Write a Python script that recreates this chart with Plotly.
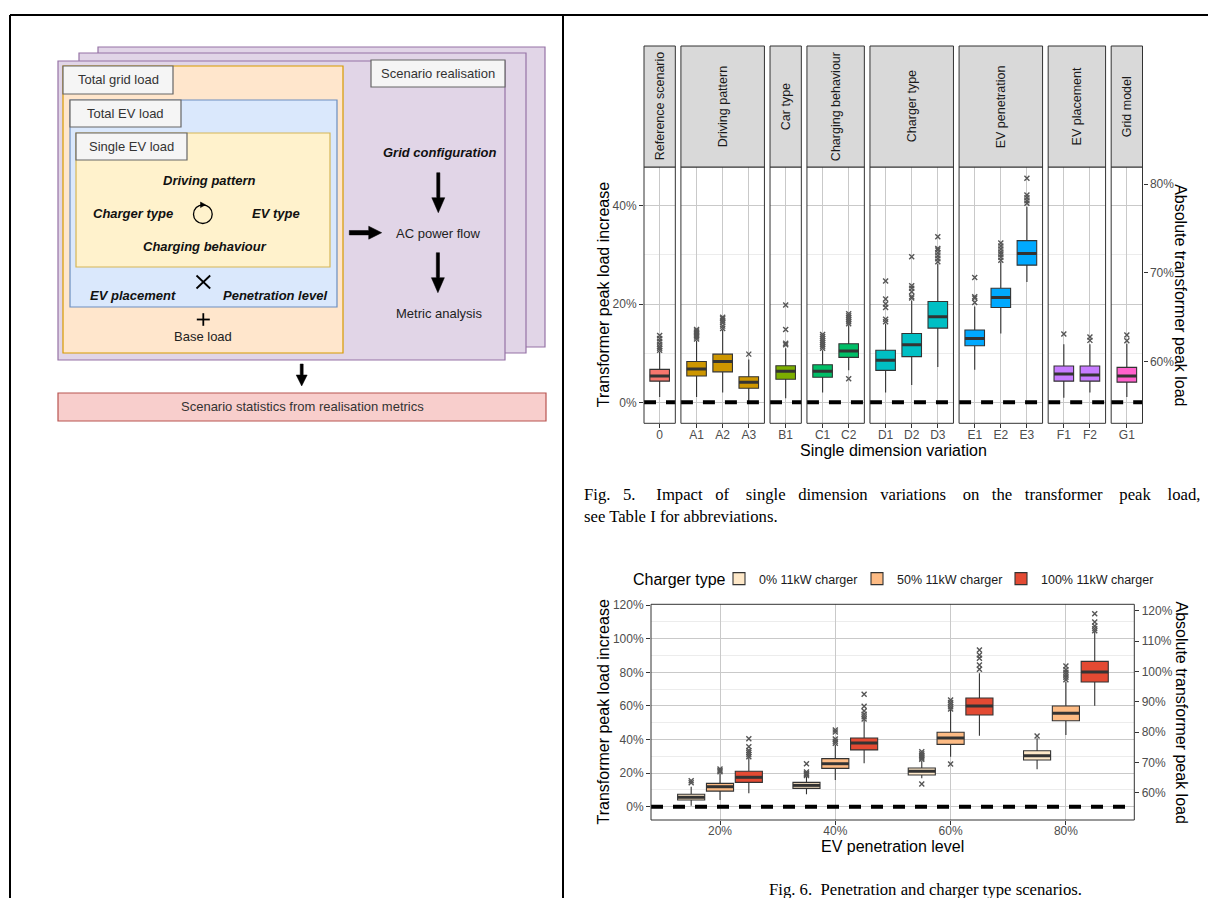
import plotly.graph_objects as go

W, H = 1208, 898


def fx(x):
    return x / W


def fy(y):
    return 1 - y / H


# ---------------------------------------------------------------- Fig. 5 data
f5_groups = ["Reference scenario", "Driving pattern", "Car type", "Charging behaviour",
             "Charger type", "EV penetration", "EV placement", "Grid model"]
f5_cats = [["0"], ["A1", "A2", "A3"], ["B1"], ["C1", "C2"], ["D1", "D2", "D3"],
           ["E1", "E2", "E3"], ["F1", "F2"], ["G1"]]
f5_colors = ["#F8766D", "#CD9600", "#7CAE00", "#00BE67", "#00BFC4", "#00A9FF", "#C77CFF", "#FF61CC"]

f5_labels = ["0", "A1", "A2", "A3", "B1", "C1", "C2", "D1", "D2", "D3", "E1", "E2", "E3", "F1", "F2", "G1"]
f5_lo = [1.1, 1.1, 2.0, 0.0, 0.8, 2.0, 6.5, 2.0, 3.5, 7.2, 6.6, 14.0, 24.5, 0.95, 2.0, 1.1]
f5_q1 = [4.3, 5.35, 6.2, 2.85, 4.7, 5.1, 9.15, 6.5, 9.3, 15.1, 11.5, 19.3, 27.9, 4.3, 4.3, 4.1]
f5_med = [5.35, 6.8, 8.3, 4.1, 6.3, 6.3, 10.45, 8.55, 11.7, 17.4, 13.0, 21.3, 30.3, 5.75, 5.55, 5.35]
f5_q3 = [6.7, 8.3, 9.8, 5.2, 7.45, 7.65, 11.9, 10.6, 14.0, 20.5, 14.7, 23.2, 32.9, 7.4, 7.4, 7.1]
f5_hi = [10.3, 12.5, 14.7, 8.7, 11.0, 10.6, 15.7, 16.0, 20.7, 28.2, 19.5, 28.6, 39.8, 11.8, 11.8, 11.9]
f5_out = [
    [10.6, 11.0, 11.3, 11.8, 12.4, 13.0, 13.6],
    [12.9, 13.3, 13.6, 13.9, 14.2, 14.5, 14.8],
    [15.0, 15.5, 16.2, 16.6, 17.0, 17.3],
    [9.8],
    [11.7, 12.0, 14.8, 19.8],
    [11.0, 11.4, 11.8, 12.2, 12.6, 13.0, 13.4, 13.8],
    [4.8, 16.0, 16.4, 16.8, 17.2, 17.6, 18.0],
    [16.4, 16.9, 19.3, 20.0, 21.0, 24.7],
    [21.2, 21.5, 22.5, 23.2, 23.7, 29.6],
    [28.6, 29.2, 29.8, 30.4, 31.0, 31.3, 33.7],
    [20.3, 21.2, 21.5, 25.4],
    [28.9, 29.5, 30.1, 30.6, 31.2, 31.8, 32.4],
    [40.5, 41.0, 41.6, 42.2, 45.6],
    [13.9],
    [12.6, 13.3],
    [12.5, 13.7],
]
f5_yticks = [0, 20, 40]
f5_yminor = [10, 30]
f5_abs_ticks = [60, 70, 80]

# ---------------------------------------------------------------- Fig. 6 data
f6_pen = [20, 40, 60, 80]
f6_pen_labels = ["20%", "40%", "60%", "80%"]
f6_chargers = ["0% 11kW charger", "50% 11kW charger", "100% 11kW charger"]
f6_colors = ["#FEE8C8", "#FDBB84", "#E34A33"]
f6_lo = [[0.6, 7.4, 16.9, 22.3], [4.0, 15.9, 29.8, 42.7], [8.0, 25.8, 42.3, 60.1]]
f6_q1 = [[4.0, 10.9, 18.9, 27.8], [9.3, 22.8, 37.1, 51.2], [14.5, 33.8, 54.6, 74.2]]
f6_med = [[5.6, 12.7, 21.1, 30.4], [11.9, 25.6, 40.9, 55.6], [17.5, 37.9, 59.9, 80.2]]
f6_q3 = [[7.4, 14.5, 23.0, 33.3], [13.9, 28.6, 44.3, 59.9], [21.1, 40.9, 64.7, 86.5]]
f6_hi = [[11.9, 18.0, 27.5, 40.7], [19.9, 36.7, 57.6, 74.4], [29.0, 51.6, 79.4, 104.2]]
f6_out = [
    [[14.3, 15.5], [18.5, 19.2, 19.8, 20.6, 25.5], [13.5, 28.2, 29.0, 29.8, 30.6, 31.5, 32.7], [42.1]],
    [[20.8, 21.6, 22.4], [37.7, 39.0, 40.3, 44.5, 45.6], [25.4, 58.2, 59.5, 60.8, 62.0, 63.5],
     [75.5, 77.0, 78.5, 80.0, 81.5, 83.7]],
    [[29.8, 31.0, 32.2, 33.5, 35.7, 40.4], [52.2, 53.5, 55.0, 57.0, 59.8, 66.9],
     [81.8, 84.3, 88.3, 90.3, 93.3], [104.8, 106.0, 107.5, 110.0, 114.9]],
]
f6_yticks = [0, 20, 40, 60, 80, 100, 120]
f6_yminor = [10, 30, 50, 70, 90, 110]
f6_abs_ticks = [60, 70, 80, 90, 100, 110, 120]
f6_legend_title = "Charger type"

# absolute transformer peak load (%) of the base load, used for the secondary axes
base_abs = 55.4

# ---------------------------------------------------------------- styling
FONT = "Liberation Sans, Arial, sans-serif"
SERIF = "Liberation Serif, Times New Roman, serif"
GRID = "#c9c9c9"
MINOR = "#ececec"
DARK = "#333333"
TICKC = "#4d4d4d"
f6_legend_w = [93, 99, 115]

fig = go.Figure()
shapes = []
annotations = []
layout_axes = {}


def pct(v):
    return f"{v}%"


def add_box(x, lo, q1, med, q3, hi, outs, color, width, xa, ya, name, showlegend, group, lw=None):
    fig.add_trace(go.Box(
        x=[x], q1=[q1], median=[med], q3=[q3], lowerfence=[lo], upperfence=[hi],
        boxpoints=False, fillcolor=color, line=dict(color=DARK, width=1.1),
        width=width, whiskerwidth=0, xaxis=xa, yaxis=ya, name=name,
        showlegend=showlegend, legendgroup=group, legendwidth=lw))
    fig.add_trace(go.Scatter(
        x=[x - width / 2, x + width / 2], y=[med, med], mode="lines",
        line=dict(color=DARK, width=3), xaxis=xa, yaxis=ya, showlegend=False,
        hoverinfo="skip", legendgroup=group))
    if outs:
        fig.add_trace(go.Scatter(
            x=[x] * len(outs), y=outs, mode="markers",
            marker=dict(symbol="x-thin", size=5, line=dict(width=1.4, color="#555555")),
            xaxis=xa, yaxis=ya, showlegend=False, hoverinfo="y", legendgroup=group))


def note(text, x, y, size, color="black", angle=0, xref="paper", family=None, xanchor="center"):
    f = dict(size=size, color=color)
    if family:
        f["family"] = family
    annotations.append(dict(text=text, xref=xref, yref="paper", x=x, y=y, textangle=angle,
                            showarrow=False, xanchor=xanchor, yanchor="middle", font=f))


XTICK = dict(ticks="outside", ticklen=4, tickcolor=DARK, tickfont=dict(size=12, color=TICKC),
             ticklabelstandoff=-4, showgrid=True, gridcolor=GRID, gridwidth=1,
             zeroline=False, showline=False)
YTICK = dict(ticks="outside", ticklen=4, tickcolor=DARK, tickfont=dict(size=12, color=TICKC),
             zeroline=False, showline=False)

# ---------------------------------------------------------------- Fig. 5
left5, right5, gap5 = 644.0, 1142.5, 5.6
top5, bot5, strip_top5 = 167.0, 423.3, 46.0
zero5_px, step5_px = 402.3, 98.3
f5_range = [-(bot5 - zero5_px) / step5_px * 20, (zero5_px - top5) / step5_px * 20]

sizes = [len(c) for c in f5_cats]
units = [n + 0.2 for n in sizes]
unit_px = (right5 - left5 - gap5 * (len(sizes) - 1)) / sum(units)

xpos = left5
for k, (grp, cats, col) in enumerate(zip(f5_groups, f5_cats, f5_colors), start=1):
    wpx = units[k - 1] * unit_px
    xa = "x" if k == 1 else f"x{k}"
    axname = "xaxis" if k == 1 else f"xaxis{k}"
    layout_axes[axname] = dict(
        domain=[fx(xpos), fx(xpos + wpx)], range=[0.4, len(cats) + 0.6], anchor="y",
        tickmode="array", tickvals=list(range(1, len(cats) + 1)), ticktext=cats, **XTICK)
    for j, cat in enumerate(cats):
        i = f5_labels.index(cat)
        add_box(j + 1, f5_lo[i], f5_q1[i], f5_med[i], f5_q3[i], f5_hi[i], f5_out[i],
                col, 0.75, xa, "y", cat, False, cat)
    dref = f"{xa} domain"
    shapes.append(dict(type="line", xref=dref, x0=0, x1=1, yref="y", y0=0, y1=0,
                       line=dict(color="black", width=4, dash="12px,10px"), layer="above"))
    shapes.append(dict(type="rect", xref=dref, x0=0, x1=1, yref="y domain", y0=0, y1=1,
                       line=dict(color=DARK, width=1), layer="above"))
    shapes.append(dict(type="rect", xref=dref, x0=0, x1=1, yref="paper",
                       y0=fy(top5), y1=fy(strip_top5), fillcolor="#d9d9d9",
                       line=dict(color=DARK, width=1), layer="above"))
    note(grp, 0.5, fy((top5 + strip_top5) / 2), 12.5, "#1a1a1a", -90, xref=dref)
    xpos += wpx + gap5

# invisible anchor so the secondary (absolute) axis is drawn
last = f5_labels.index(f5_cats[-1][-1])
fig.add_trace(go.Scatter(x=[1], y=[base_abs * (1 + f5_med[last] / 100)], xaxis="x8", yaxis="y2",
                         mode="markers", marker=dict(opacity=0), showlegend=False, hoverinfo="skip"))

layout_axes["yaxis"] = dict(
    domain=[fy(bot5), fy(top5)], range=f5_range, anchor="x",
    tickmode="array", tickvals=f5_yticks, ticktext=[pct(v) for v in f5_yticks],
    showgrid=True, gridcolor=GRID, gridwidth=1,
    minor=dict(tickvals=f5_yminor, showgrid=True, gridcolor=MINOR, ticks=""), **YTICK)
layout_axes["yaxis2"] = dict(
    overlaying="y", anchor="x8", side="right",
    range=[base_abs * (1 + r / 100) for r in f5_range],
    tickmode="array", tickvals=f5_abs_ticks, ticktext=[pct(v) for v in f5_abs_ticks],
    showgrid=False, **YTICK)

note("Transformer peak load increase", fx(603), fy((top5 + bot5) / 2), 16, angle=-90)
note("Absolute transformer peak load", fx(1181), fy((top5 + bot5) / 2), 16, angle=90)
note("Single dimension variation", fx((left5 + right5) / 2), fy(451), 16)

# ---------------------------------------------------------------- Fig. 6
left6, right6, top6, bot6 = 651.0, 1134.3, 604.3, 820.0
zero6_px, step6_px = 806.7, 33.6
f6_range = [-(bot6 - zero6_px) / step6_px * 20, (zero6_px - top6) / step6_px * 20]
x20_px, xstep_px = 720.0, 115.3
f6_xrange = [20 + (left6 - x20_px) / xstep_px * 20, 20 + (right6 - x20_px) / xstep_px * 20]
dodge = [-5.0, 0.0, 5.0]

for g, (cname, col) in enumerate(zip(f6_chargers, f6_colors)):
    for p, pen in enumerate(f6_pen):
        add_box(pen + dodge[g], f6_lo[g][p], f6_q1[g][p], f6_med[g][p], f6_q3[g][p],
                f6_hi[g][p], f6_out[g][p], col, 4.7, "x9", "y3", cname, p == 0, cname,
                lw=f6_legend_w[g])

fig.add_trace(go.Scatter(x=[f6_pen[-1]], y=[base_abs * (1 + f6_med[-1][-1] / 100)], xaxis="x9",
                         yaxis="y4", mode="markers", marker=dict(opacity=0), showlegend=False,
                         hoverinfo="skip"))

layout_axes["xaxis9"] = dict(
    domain=[fx(left6), fx(right6)], range=f6_xrange, anchor="y3",
    tickmode="array", tickvals=f6_pen, ticktext=f6_pen_labels, **XTICK)
layout_axes["yaxis3"] = dict(
    domain=[fy(bot6), fy(top6)], range=f6_range, anchor="x9",
    tickmode="array", tickvals=f6_yticks, ticktext=[pct(v) for v in f6_yticks],
    showgrid=True, gridcolor=GRID, gridwidth=1,
    minor=dict(tickvals=f6_yminor, showgrid=True, gridcolor=MINOR, ticks=""), **YTICK)
layout_axes["yaxis4"] = dict(
    overlaying="y3", anchor="x9", side="right",
    range=[base_abs * (1 + r / 100) for r in f6_range],
    tickmode="array", tickvals=f6_abs_ticks, ticktext=[pct(v) for v in f6_abs_ticks],
    showgrid=False, **YTICK)

shapes.append(dict(type="line", xref="x9 domain", x0=0, x1=1, yref="y3", y0=0, y1=0,
                   line=dict(color="black", width=4, dash="12px,10px"), layer="above"))
shapes.append(dict(type="rect", xref="x9 domain", x0=0, x1=1, yref="y3 domain", y0=0, y1=1,
                   line=dict(color=DARK, width=1), layer="above"))

note("Transformer peak load increase", fx(603), fy(712.5), 16, angle=-90)
note("Absolute transformer peak load", fx(1181), fy(712.5), 16, angle=90)
note("EV penetration level", fx((left6 + right6) / 2), fy(846), 16)
note(f6_legend_title, fx(631), fy(579), 16, xanchor="left")

# ---------------------------------------------------------------- captions
NB = "\u00a0"
cap1_words = ["Fig.", "5.", "Impact", "of", "single", "dimension", "variations", "on",
              "the", "transformer", "peak", "load,"]
cap1_gaps = [3, 5, 3, 4, 3, 3, 4, 3, 3, 4, 4]
cap1 = cap1_words[0] + "".join(NB * n + w for n, w in zip(cap1_gaps, cap1_words[1:]))
note(cap1, fx(582), fy(494), 16.7, family=SERIF, xanchor="left")
note("see Table I for abbreviations.", fx(582), fy(516), 16.7, family=SERIF, xanchor="left")
note("Fig. 6." + NB * 2 + "Penetration and charger type scenarios.", fx(925), fy(889), 16.7,
     family=SERIF)

# ---------------------------------------------------------------- page frame
for (a, b, c, d) in [(10, 15, 1208, 15), (10, 15, 10, 898), (563, 15, 563, 898)]:
    shapes.append(dict(type="line", xref="paper", yref="paper", x0=fx(a), y0=fy(b),
                       x1=fx(c), y1=fy(d), line=dict(color="black", width=2)))

# ---------------------------------------------------------------- Fig. 4 diagram


def rect(x0, y0, x1, y1, fill, line, w=1.2):
    shapes.append(dict(type="rect", xref="paper", yref="paper", x0=fx(x0), x1=fx(x1),
                       y0=fy(y1), y1=fy(y0), fillcolor=fill, line=dict(color=line, width=w),
                       layer="below"))


def label(x, y, text, size=13, color="#333333"):
    note(text, fx(x), fy(y), size, color)


def poly(points):
    path = "M" + " L".join(f"{fx(a):.5f},{fy(b):.5f}" for a, b in points) + " Z"
    shapes.append(dict(type="path", xref="paper", yref="paper", path=path,
                       fillcolor="black", line=dict(color="black", width=0.5)))


def arrow_down(x, y0, y1, sw=1.6, hw=6.5, hl=15):
    yh = y1 - hl
    poly([(x - sw, y0), (x + sw, y0), (x + sw, yh), (x + hw, yh), (x, y1), (x - hw, yh), (x - sw, yh)])


def arrow_right(x0, x1, y, sw=2.2, hw=6.5, hl=13):
    xh = x1 - hl
    poly([(x0, y - sw), (xh, y - sw), (xh, y - hw), (x1, y), (xh, y + hw), (xh, y + sw), (x0, y + sw)])


def seg(a, b, c, d, w=1.8):
    shapes.append(dict(type="line", xref="paper", yref="paper", x0=fx(a), y0=fy(b),
                       x1=fx(c), y1=fy(d), line=dict(color="black", width=w)))


rect(98, 47, 545, 347, "#E1D5E7", "#9673A6")
rect(79, 53, 526, 353, "#E1D5E7", "#9673A6")
rect(58, 61, 505, 360, "#E1D5E7", "#9673A6")
rect(63, 66, 343, 353, "#FFE6CC", "#D79B00")
rect(63, 66, 173, 94, "#F5F5F5", "#666666")
rect(70, 100, 337, 307, "#DAE8FC", "#6C8EBF")
rect(70, 100, 181, 127, "#F5F5F5", "#666666")
rect(76, 133, 330, 267, "#FFF2CC", "#D6B656")
rect(76, 133, 187, 160, "#F5F5F5", "#666666")
rect(371, 60, 505, 87, "#F5F5F5", "#666666")
rect(58, 393, 546, 421, "#F8CECC", "#B85450")

label(118, 80, "Total grid load")
label(125.5, 113.5, "Total EV load")
label(131.5, 146.5, "Single EV load")
label(438, 73.5, "Scenario realisation")
label(302, 407, "Scenario statistics from realisation metrics")
label(209.7, 180.5, "<b><i>Driving pattern</i></b>", color="#111111")
label(133.3, 213.5, "<b><i>Charger type</i></b>", color="#111111")
label(275.5, 213.5, "<b><i>EV type</i></b>", color="#111111")
label(204.5, 246, "<b><i>Charging behaviour</i></b>", color="#111111")
label(132.7, 296, "<b><i>EV placement</i></b>", color="#111111")
label(275, 296, "<b><i>Penetration level</i></b>", color="#111111")
label(203.3, 336, "Base load", color="#222222")
label(439, 153, "<b><i>Grid configuration</i></b>", color="#111111")
label(438, 233, "AC power flow", color="#222222")
label(438.7, 313.5, "Metric analysis", color="#222222")

# cycle symbol
shapes.append(dict(type="circle", xref="paper", yref="paper", x0=fx(193.5), x1=fx(212.2),
                   y0=fy(223.5), y1=fy(204.8), line=dict(color="black", width=1.3)))
poly([(200.5, 202.0), (200.5, 207.6), (205.5, 204.8)])
# multiplication and plus signs
seg(196.5, 275.5, 210.2, 288.5)
seg(196.5, 288.5, 210.2, 275.5)
seg(196.8, 319.5, 209.8, 319.5)
seg(203.3, 313.2, 203.3, 325.8)

arrow_down(438.3, 172.7, 212.7)
arrow_right(349.3, 381.7, 232.7)
arrow_down(437.9, 252.7, 292.7)
arrow_down(301.7, 364, 386, sw=1.5, hw=5.5, hl=11)

# ---------------------------------------------------------------- layout
fig.update_layout(
    template="none",
    width=W, height=H, margin=dict(l=0, r=0, t=0, b=0),
    paper_bgcolor="white", plot_bgcolor="white",
    font=dict(family=FONT, size=12, color="black"),
    boxmode="overlay",
    shapes=shapes, annotations=annotations,
    legend=dict(orientation="h", x=fx(719), y=fy(579), xanchor="left", yanchor="middle",
                font=dict(size=12.5, color="#1a1a1a"), bgcolor="rgba(0,0,0,0)",
                itemwidth=30, tracegroupgap=0),
    **layout_axes,
)

fig.write_html("out.html", config={"displayModeBar": False},
               post_script="document.body.style.margin='0';document.body.style.overflow='hidden';")
